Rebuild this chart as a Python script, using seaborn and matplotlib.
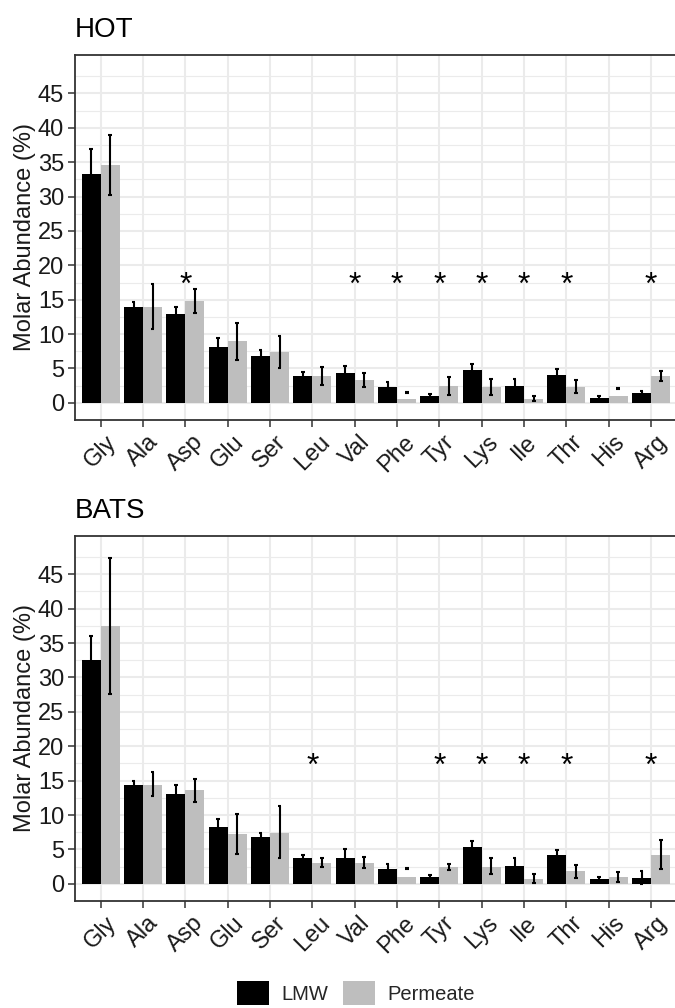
import matplotlib
matplotlib.use("Agg")
import matplotlib.pyplot as plt
from matplotlib.patches import Patch
import numpy as np
import pandas as pd
import seaborn as sns

# ---- data -------------------------------------------------------------
amino_acids = ["Gly", "Ala", "Asp", "Glu", "Ser", "Leu", "Val",
               "Phe", "Tyr", "Lys", "Ile", "Thr", "His", "Arg"]
fractions = ["LMW", "Permeate"]

# HOT station
hot_lmw = [33.3, 14.0, 12.9, 8.1, 6.8, 3.9, 4.3, 2.3, 1.0, 4.8, 2.5, 4.1, 0.7, 1.45]
hot_lmw_lo = [29.7, 13.3, 11.9, 6.8, 5.9, 3.2, 3.3, 1.6, 0.75, 3.9, 1.5, 3.2, 0.4, 1.15]
hot_lmw_hi = [36.9, 14.7, 13.9, 9.4, 7.7, 4.5, 5.4, 3.0, 1.25, 5.6, 3.4, 4.9, 1.06, 1.74]
hot_perm = [34.6, 14.0, 14.8, 9.0, 7.4, 3.9, 3.3, 0.58, 2.5, 2.35, 0.58, 2.35, 1.05, 3.9]
hot_perm_lo = [30.2, 10.8, 13.0, 6.3, 5.0, 2.6, 2.3, 1.47, 1.16, 1.2, 0.29, 1.45, 2.05, 3.14]
hot_perm_hi = [38.9, 17.3, 16.6, 11.6, 9.7, 5.2, 4.4, 1.60, 3.76, 3.5, 0.96, 3.3, 2.18, 4.7]
hot_sig = ["Asp", "Val", "Phe", "Tyr", "Lys", "Ile", "Thr", "Arg"]

# BATS station
bats_lmw = [32.5, 14.3, 13.0, 8.25, 6.8, 3.8, 3.8, 2.15, 1.0, 5.4, 2.6, 4.2, 0.7, 0.85]
bats_lmw_lo = [29.0, 13.6, 11.6, 7.1, 6.2, 3.4, 2.6, 1.4, 0.7, 4.6, 1.5, 3.5, 0.45, 0.0]
bats_lmw_hi = [36.0, 15.0, 14.4, 9.4, 7.4, 4.2, 5.0, 2.9, 1.3, 6.2, 3.7, 4.9, 0.92, 1.8]
bats_perm = [37.5, 14.4, 13.6, 7.3, 7.45, 3.0, 3.0, 1.0, 2.5, 2.5, 0.75, 1.9, 1.0, 4.2]
bats_perm_lo = [27.6, 12.7, 11.9, 4.4, 3.75, 2.4, 2.3, 2.14, 2.0, 1.4, 0.05, 0.9, 0.3, 2.2]
bats_perm_hi = [47.4, 16.2, 15.3, 10.1, 11.3, 3.7, 3.85, 2.26, 2.9, 3.7, 1.45, 2.8, 1.65, 6.3]
bats_sig = ["Leu", "Tyr", "Lys", "Ile", "Thr", "Arg"]

sig_height = 17.0
colors = {"LMW": "#000000", "Permeate": "#BEBEBE"}

# ---- style ------------------------------------------------------------
sns.set_theme(style="white")
plt.rcParams["font.family"] = ["Liberation Sans", "DejaVu Sans"]

fig = plt.figure(figsize=(6.75, 10.08), dpi=100)
W, H = 675.0, 1008.0
TEXT = "#1a1a1a"


def panel(top_px, bottom_px, title, title_base_px, lmw, lmw_lo, lmw_hi,
          perm, perm_lo, perm_hi, sig):
    left_px, right_px = 75.3, 676.5
    ax = fig.add_axes([left_px / W, 1 - bottom_px / H,
                       (right_px - left_px) / W, (bottom_px - top_px) / H])
    df = pd.DataFrame({
        "aa": amino_acids * 2,
        "fraction": ["LMW"] * len(amino_acids) + ["Permeate"] * len(amino_acids),
        "value": list(lmw) + list(perm),
    })
    sns.barplot(data=df, x="aa", y="value", hue="fraction", order=amino_acids,
                hue_order=fractions, palette=colors, width=0.9, saturation=1,
                errorbar=None, legend=False, ax=ax, zorder=3, linewidth=0)

    # error bars at the bar centres
    cap = 0.045
    for cont, lo, hi in zip(ax.containers, [lmw_lo, perm_lo], [lmw_hi, perm_hi]):
        xs = np.array([b.get_x() + b.get_width() / 2 for b in cont])
        ax.vlines(xs, lo, hi, color="black", lw=1.5, zorder=4)
        ax.hlines(lo, xs - cap, xs + cap, color="black", lw=1.5, zorder=4)
        ax.hlines(hi, xs - cap, xs + cap, color="black", lw=1.5, zorder=4)

    for name in sig:
        ax.text(amino_acids.index(name), sig_height, "*", ha="center", va="center",
                fontsize=23, color="black", zorder=5)

    ax.set_xlim(-0.6, len(amino_acids) - 0.4)
    ax.set_ylim(-2.4, 50.6)
    ax.set_yticks(np.arange(0, 50, 5))
    ax.set_yticks(np.arange(-2.5, 50, 2.5), minor=True)
    ax.grid(True, which="major", color="#EBEBEB", lw=1.5, zorder=0)
    ax.grid(True, which="minor", axis="y", color="#EBEBEB", lw=0.8, zorder=0)
    ax.set_axisbelow(True)
    ax.set_xlabel("")
    ax.set_ylabel("")
    ax.tick_params(axis="both", which="major", length=5, width=1.1, color="#333333",
                   labelsize=17, labelcolor=TEXT, pad=3, bottom=True, left=True)
    ax.tick_params(axis="both", which="minor", length=0)
    for lab in ax.get_xticklabels():
        lab.set_rotation(45)
        lab.set_ha("center")
        lab.set_va("top")
    for s in ax.spines.values():
        s.set_color("#333333")
        s.set_linewidth(1.3)

    fig.text(25 / W, 1 - (top_px + bottom_px) / 2 / H, "Molar Abundance (%)",
             rotation=90, ha="center", va="center", fontsize=17, color=TEXT)
    fig.text(75 / W, 1 - title_base_px / H, title, ha="left", va="baseline",
             fontsize=20, color="black")
    return ax


panel(55, 420, "HOT", 37, hot_lmw, hot_lmw_lo, hot_lmw_hi,
      hot_perm, hot_perm_lo, hot_perm_hi, hot_sig)
panel(535.7, 901, "BATS", 518, bats_lmw, bats_lmw_lo, bats_lmw_hi,
      bats_perm, bats_perm_lo, bats_perm_hi, bats_sig)

handles = [Patch(facecolor=colors[f], edgecolor="none", label=f) for f in fractions]
fig.legend(handles=handles, loc="center", bbox_to_anchor=(356 / W, 1 - 993 / H),
           ncol=2, frameon=False, fontsize=14.5, handlelength=1.6, handleheight=1.4,
           handletextpad=0.6, columnspacing=0.75, borderaxespad=0, borderpad=0)

fig.savefig("out.png", dpi=100)
